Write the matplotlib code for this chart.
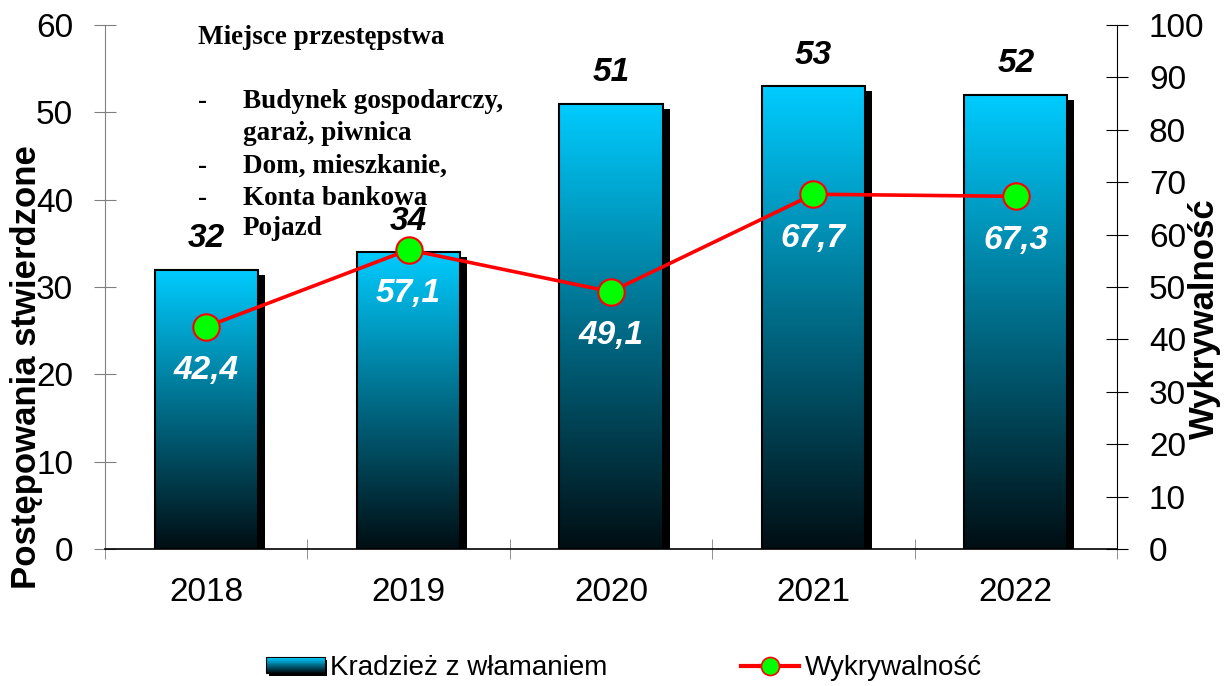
import numpy as np
import matplotlib.pyplot as plt
import matplotlib.transforms as mtransforms
from matplotlib.colors import LinearSegmentedColormap
from matplotlib.patches import Rectangle, Patch
from matplotlib.lines import Line2D
from matplotlib.legend_handler import HandlerBase

# dane
lata = ['2018', '2019', '2020', '2021', '2022']
postepowania = [32, 34, 51, 53, 52]
wykrywalnosc = [42.4, 57.1, 49.1, 67.7, 67.3]

ramka_tytul = 'Miejsce przestępstwa'
ramka_myslniki = ['-', '', '-', '-', '']
ramka_linie = ['Budynek gospodarczy,', 'garaż, piwnica', 'Dom, mieszkanie,',
               'Konta bankowa', 'Pojazd']

plt.rcParams['font.family'] = ['Liberation Sans', 'DejaVu Sans']

W, H = 1231, 686
cmap = LinearSegmentedColormap.from_list('kradziez', ['#000E13', '#006C88', '#00CCFF'])


class GradientHandler(HandlerBase):
    # prostokat z gradientem i cieniem do legendy
    def create_artists(self, legend, orig_handle, xdescent, ydescent,
                       width, height, fontsize, trans):
        x0, y0 = -xdescent, -ydescent
        arts = [Rectangle((x0 + 2, y0 - 2), width, height, fc='black', ec='none', transform=trans)]
        n = 24
        for i in range(n):
            arts.append(Rectangle((x0, y0 + height * i / n), width, height / n + 0.2,
                                  fc=cmap(i / (n - 1)), ec='none', transform=trans))
        arts.append(Rectangle((x0, y0), width, height, fc='none', ec='black', lw=0.8, transform=trans))
        return arts


fig = plt.figure(figsize=(W / 100, H / 100), dpi=100)
ax = fig.add_axes([105 / W, 1 - 549 / H, (1117 - 105) / W, (549 - 25) / H])
ax2 = ax.twinx()

x = np.arange(len(lata))
szer = 0.51
grad = np.linspace(0, 1, 256).reshape(-1, 1)
cien = ax.transData + mtransforms.ScaledTranslation(7 / 100, -5 / 100, fig.dpi_scale_trans)
for xi, h in zip(x, postepowania):
    ax.add_patch(Rectangle((xi - szer / 2, 0), szer, h, fc='black', ec='none', transform=cien, zorder=1))
    ax.imshow(grad, extent=[xi - szer / 2, xi + szer / 2, 0, h], origin='lower',
              aspect='auto', cmap=cmap, zorder=2)
    ax.add_patch(Rectangle((xi - szer / 2, 0), szer, h, fc='none', ec='black', lw=1.5, zorder=3))

# etykiety slupkow
for xi, h in zip(x, postepowania):
    ax.annotate(str(h), (xi, h), xytext=(0, 31), textcoords='offset pixels',
                ha='center', va='center', fontsize=24, fontweight='bold', fontstyle='italic')

# linia wykrywalnosci
ax2.plot(x, wykrywalnosc, color='red', lw=2.6, marker='o', ms=19,
         mfc='#00FF00', mec='red', mew=1.5, zorder=5)
for xi, v in zip(x, wykrywalnosc):
    ax2.annotate(f'{v:.1f}'.replace('.', ','), (xi, v), xytext=(0, -44), textcoords='offset pixels',
                 ha='center', va='center', fontsize=24, fontweight='bold', fontstyle='italic', color='white')

ax.set_xlim(-0.5, 4.5)
ax.set_ylim(0, 60)
ax2.set_ylim(0, 100)
ax.set_yticks(range(0, 61, 10))
ax2.set_yticks(range(0, 101, 10))
ax.set_xticks(x, lata)
ax.set_xticks(np.arange(-0.5, 5, 1), minor=True)

for s in ['top', 'right']:
    ax.spines[s].set_visible(False)
for s in ['top', 'left', 'bottom']:
    ax2.spines[s].set_visible(False)
ax.spines['left'].set_color('#808080')
ax.spines['bottom'].set_linewidth(1.2)

ax.tick_params(axis='y', direction='inout', length=16, color='#808080', labelsize=24, pad=15)
ax.tick_params(axis='x', which='major', length=0, labelsize=24, pad=20)
ax.tick_params(axis='x', which='minor', direction='inout', length=15, color='#808080')
ax2.tick_params(axis='y', direction='inout', length=16, color='black', labelsize=24, pad=15)

fig.text(27 / W, 1 - 367 / H, 'Postępowania stwierdzone', rotation=90, fontsize=25,
         fontweight='bold', ha='center', va='center')
fig.text(1204 / W, 1 - 319 / H, 'Wykrywalność', rotation=90, fontsize=25,
         fontweight='bold', ha='center', va='center')

# ramka z opisem
serif = dict(family=['Liberation Serif', 'DejaVu Serif'], fontweight='bold', fontsize=19.5)
fig.text(198 / W, 1 - 44 / H, ramka_tytul, va='baseline', **serif)
for i, (m, t) in enumerate(zip(ramka_myslniki, ramka_linie)):
    yb = [108, 140, 173, 205, 235][i]
    if m:
        fig.text(198 / W, 1 - yb / H, m, va='baseline', **serif)
    fig.text(243 / W, 1 - yb / H, t, va='baseline', **serif)

# legenda
uchwyt_slupek = Patch()
uchwyt_linia = Line2D([], [], color='red', lw=3, marker='o', ms=13, mfc='#00FF00', mec='red', mew=1.2)
fig.legend([uchwyt_slupek, uchwyt_linia], ['Kradzież z włamaniem', 'Wykrywalność'],
           handler_map={uchwyt_slupek: GradientHandler()}, loc='center',
           bbox_to_anchor=(624 / W, 1 - 668 / H), ncol=2, frameon=False, fontsize=20,
           handlelength=2.1, handleheight=0.5, handletextpad=0.2, columnspacing=4.8)

fig.savefig('out.png', dpi=100)
